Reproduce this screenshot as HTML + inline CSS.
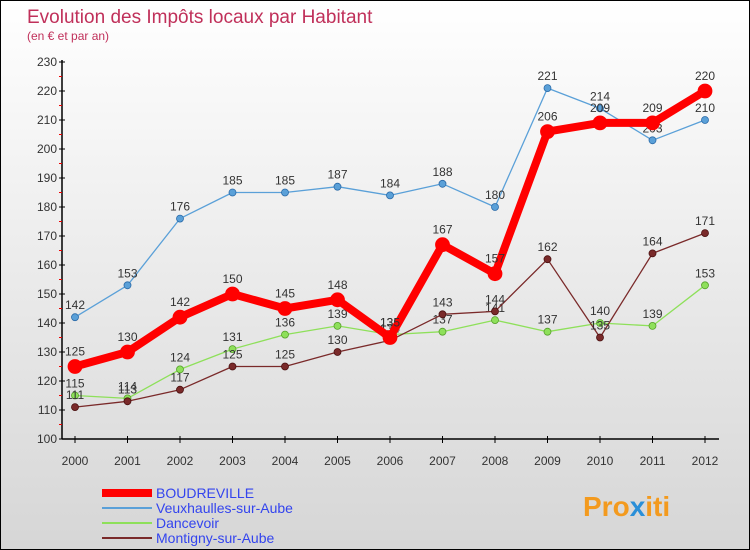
<!DOCTYPE html>
<html><head><meta charset="utf-8"><style>
body{margin:0}
#wrap{width:748px;height:548px;border:1px solid #000;position:relative;background:linear-gradient(#fff,#d6d6d6);font-family:"Liberation Sans",sans-serif;overflow:hidden}
text{font-family:"Liberation Sans",sans-serif}
</style></head><body>
<div id="wrap">
<svg id="svg" width="748" height="548">
<text x="26" y="22" font-size="19" fill="#c0305a">Evolution des Impôts locaux par Habitant</text>
<text x="26" y="39" font-size="12" fill="#c0305a">(en € et par an)</text>
<text x="582" y="515" font-size="28" font-weight="bold" fill="#f39a1e">Pro<tspan fill="#2a8fd8">x</tspan>iti</text>
</svg>
</div>
<script>
const years=["2000","2001","2002","2003","2004","2005","2006","2007","2008","2009","2010","2011","2012"];
const yTicks=[100,110,120,130,140,150,160,170,180,190,200,210,220,230];
const boudreville=[125,130,142,150,145,148,135,167,157,206,209,209,220];
const veux=[142,153,176,185,185,187,184,188,180,221,214,203,210];
const dancevoir=[115,114,124,131,136,139,136,137,141,137,140,139,153];
const montigny=[111,113,117,125,125,130,134,143,144,162,135,164,171];
const svg=document.getElementById('svg');
const NS='http://www.w3.org/2000/svg';
const X=i=>74+i*52.5, Y=v=>438-(v-100)*(377/130);
function el(t,a,p){const e=document.createElementNS(NS,t);for(const k in a)e.setAttribute(k,a[k]);(p||svg).appendChild(e);return e;}
let ax=el('line',{x1:61,y1:Y(230)-2,x2:61,y2:438,stroke:'#000','stroke-width':1.5});


let ax2=el('line',{x1:61,y1:438,x2:718,y2:438,stroke:'#000','stroke-width':1.5});


yTicks.forEach(v=>{
 el('line',{x1:58,x2:64,y1:Y(v),y2:Y(v),stroke:'#000'});
 if(v<230) el('line',{x1:58,x2:61,y1:Y(v+5),y2:Y(v+5),stroke:'#e00'});
 const t=el('text',{x:56,y:Y(v)+4,'font-size':12,'text-anchor':'end',fill:'#333'});t.textContent=v;
 
 
});
years.forEach((y,i)=>{
 el('line',{x1:X(i),x2:X(i),y1:435,y2:442,stroke:'#000'});
 const t=el('text',{x:X(i),y:464,'font-size':12,'text-anchor':'middle',fill:'#333'});t.textContent=y;
 
 
});
function series(d,color,w,r,name,stroke){
 const g=el('g',{});
 
 
 el('polyline',{points:d.map((v,i)=>X(i)+','+Y(v)).join(' '),fill:'none',stroke:color,'stroke-width':w,'stroke-linejoin':'round'},g);
 d.forEach((v,i)=>{
  const c=el('circle',{cx:X(i),cy:Y(v),r:r,fill:color,stroke:stroke,'stroke-width':0.8},g);
  
  
  const t=el('text',{x:X(i),y:Y(v)-8-(r>4?3:0),'font-size':12,'text-anchor':'middle',fill:'#333'},g);t.textContent=v;
  
  
 });
}
series(veux,'#5aa0d8',1.3,3.5,'veuxhaulles-series','#2a6aa8');
series(dancevoir,'#8ee05a',1.3,3.5,'dancevoir-series','#55a02a');
series(montigny,'#7a2a2a',1.3,3.5,'montigny-series','#4a1010');
series(boudreville,'#f00',8,7,'boudreville-series','#f00');
const leg=[['BOUDREVILLE','#f00',8],['Veuxhaulles-sur-Aube','#5aa0d8',2],['Dancevoir','#8ee05a',2],['Montigny-sur-Aube','#7a2a2a',2]];
leg.forEach((l,i)=>{
 const g=el('g',{});
 
 
 const y=492+i*15;
 el('line',{x1:101,x2:151,y1:y,y2:y,stroke:l[1],'stroke-width':l[2]},g);
 const t=el('text',{x:155,y:y+5,'font-size':14,fill:'#3344ee'},g);t.textContent=l[0];
});
</script>
</body></html>
